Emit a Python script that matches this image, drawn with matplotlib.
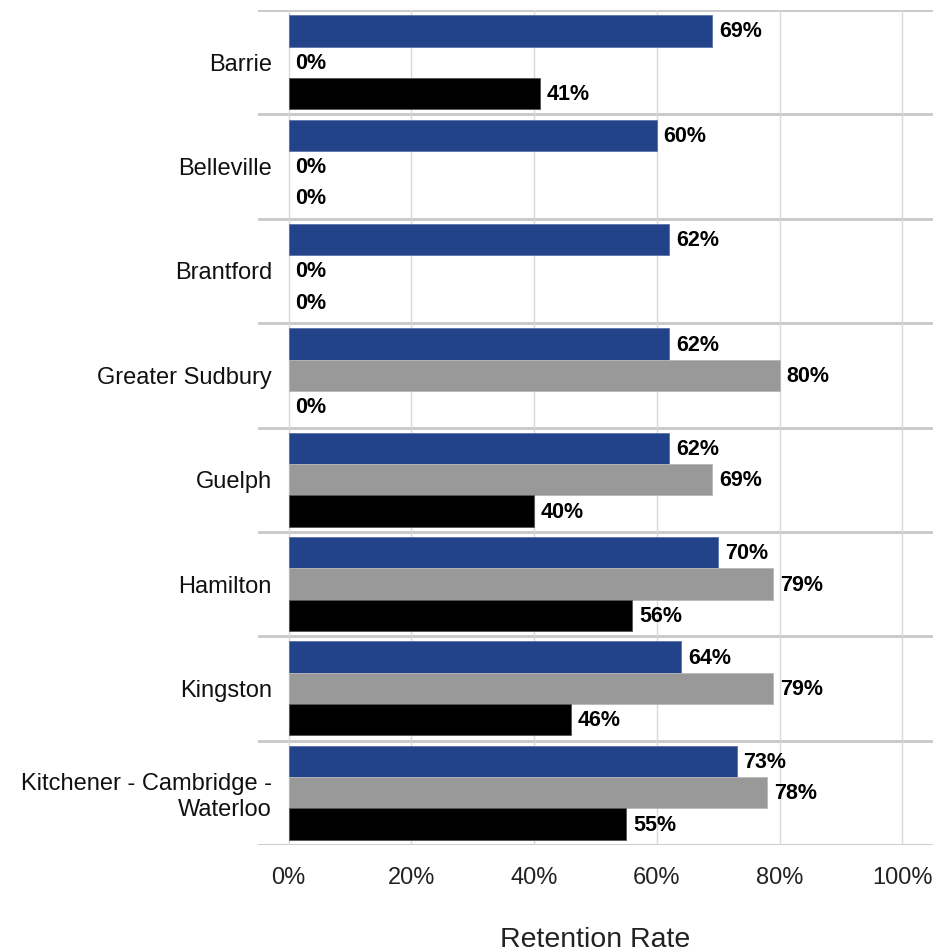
import numpy as np
import matplotlib
matplotlib.use("Agg")
import matplotlib.pyplot as plt

plt.rcParams['font.family'] = ['Liberation Sans', 'DejaVu Sans']

cities = ["Barrie", "Belleville", "Brantford", "Greater Sudbury", "Guelph",
          "Hamilton", "Kingston", "Kitchener - Cambridge -\nWaterloo"]
series_a = [69, 60, 62, 62, 62, 70, 64, 73]   # blue
series_b = [0, 0, 0, 80, 69, 79, 79, 78]      # gray
series_c = [41, 0, 0, 0, 40, 56, 46, 55]      # black
colors = ["#22428a", "#999999", "#000000"]
edges = ["#5a73a8", "#b8b8b8", "#555555"]

fig = plt.figure(figsize=(9.33, 9.51), dpi=100)
ax = fig.add_axes([258 / 933, 1 - 845 / 951, 1 - 258 / 933, (845 - 10) / 951])

ypos = np.arange(len(cities)) + 0.5
h = 0.3
for k, (vals, off) in enumerate(zip([series_a, series_b, series_c], [-h, 0, h])):
    lw = [0.6 if v > 0 else 0 for v in vals]
    ax.barh(ypos + off, vals, height=h, color=colors[k], edgecolor=edges[k],
            linewidth=lw, zorder=3)
    for y, v in zip(ypos + off, vals):
        ax.text(v + 1.1, y + 0.01, f"{v}%", ha="left", va="center", fontsize=15.5,
                fontweight="bold", color="black", zorder=4)

ax.set_xlim(-5, 105)
ax.set_ylim(len(cities), 0)
ax.set_xticks(np.arange(0, 101, 20))
ax.set_xticklabels([f"{t}%" for t in range(0, 101, 20)], fontsize=17, color="#222222")
ax.set_yticks(ypos)
ax.set_yticklabels(cities, fontsize=17, color="#111111")
ax.tick_params(axis="y", length=0, pad=-10)
ax.tick_params(axis="x", length=0, pad=16)
for lbl in ax.get_yticklabels():
    lbl.set_multialignment("right")

ax.grid(axis="x", color="#d9d9d9", linewidth=1, zorder=0)
for b in range(len(cities) + 1):
    ax.axhline(b, color="#c8c8c8", linewidth=2, zorder=1)
for s in ax.spines.values():
    s.set_visible(False)

ax.set_xlabel("Retention Rate", fontsize=20.5, labelpad=27, color="#222222")

fig.savefig("out.png", dpi=100)
